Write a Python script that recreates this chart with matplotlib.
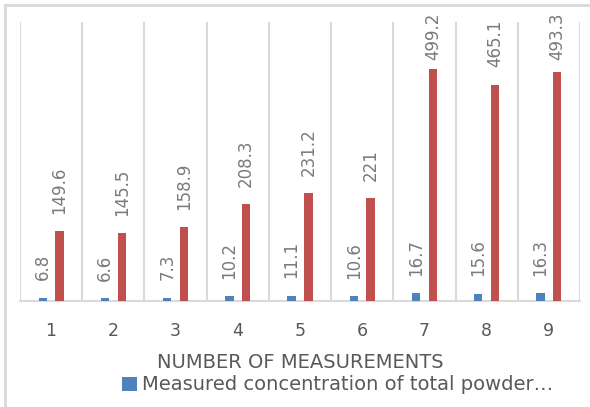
import matplotlib
matplotlib.use("Agg")
import matplotlib.pyplot as plt
import numpy as np
from matplotlib.lines import Line2D

# Data
categories = ["1", "2", "3", "4", "5", "6", "7", "8", "9"]
total_powder = [6.8, 6.6, 7.3, 10.2, 11.1, 10.6, 16.7, 15.6, 16.3]
second_series = [149.6, 145.5, 158.9, 208.3, 231.2, 221, 499.2, 465.1, 493.3]
axis_title = "NUMBER OF MEASUREMENTS"
legend_label = "Measured concentration of total powder\u2026"

BLUE = "#4F81BD"
RED = "#C0504D"
GRID = "#D9D9D9"
TEXT = "#595959"
LABEL = "#7A7A7A"

W, H, DPI = 590, 407, 100
fig = plt.figure(figsize=(W / DPI, H / DPI), dpi=DPI)
fig.patch.set_facecolor("white")

# Plot area in pixel coordinates
left, right, top, bottom = 20, 580, 22, 301
ax = fig.add_axes([left / W, (H - bottom) / H, (right - left) / W, (bottom - top) / H])

x = np.arange(len(categories))
bw = 0.134
off = 0.135
b1 = ax.bar(x - off, total_powder, width=bw, color=BLUE, zorder=3)
b2 = ax.bar(x + off, second_series, width=bw, color=RED, zorder=3)

ax.set_xlim(-0.5, len(categories) - 0.5)
ax.set_ylim(0, 600)

# Vertical gridlines at category boundaries
for b in np.arange(-0.5, len(categories), 1.0):
    ax.axvline(b, color=GRID, lw=1.5, zorder=1)

for s in ["top", "left", "right"]:
    ax.spines[s].set_visible(False)
ax.spines["bottom"].set_color(GRID)
ax.spines["bottom"].set_linewidth(1.5)
ax.set_yticks([])
ax.set_xticks(x)
ax.set_xticklabels(categories)
ax.tick_params(axis="x", length=0, pad=15, labelsize=12.5, labelcolor=TEXT)

# Value labels above bars, rotated
labels = []
for bars, vals in ((b1, total_powder), (b2, second_series)):
    for rect, v in zip(bars, vals):
        cx = rect.get_x() + rect.get_width() / 2
        t = ax.annotate(f"{v:g}", xy=(cx, v), xytext=(0, 12.5), textcoords="offset points",
                        rotation=90, ha="center", va="bottom", fontsize=12,
                        color=LABEL, annotation_clip=False)
        labels.append(t)

# Axis title and legend
fig.text(300 / W, 1 - 362 / H, axis_title, ha="center", va="center", fontsize=14, color=TEXT)
fig.legend(handles=[b1], labels=[legend_label], loc="center left",
           bbox_to_anchor=(122 / W, 1 - 385 / H), frameon=False, fontsize=14,
           handlelength=0.75, handleheight=0.75, handletextpad=0.3,
           borderpad=0, borderaxespad=0, labelcolor=TEXT)

# Chart border (top and left edges)
fig.add_artist(Line2D([5 / W, 1], [1 - 5 / H, 1 - 5 / H], transform=fig.transFigure, color=GRID, lw=2))
fig.add_artist(Line2D([5 / W, 5 / W], [1 - 5 / H, 0], transform=fig.transFigure, color=GRID, lw=2))

# Keep labels inside the chart area: push down those that overflow the top
fig.canvas.draw()
renderer = fig.canvas.get_renderer()
limit = H - 13
for t in labels:
    bb = t.get_window_extent(renderer)
    if bb.y1 > limit:
        shift_pt = (bb.y1 - limit) * 72 / DPI
        ox, oy = t.xyann
        t.xyann = (ox, oy - shift_pt)

fig.savefig("out.png", dpi=DPI)
